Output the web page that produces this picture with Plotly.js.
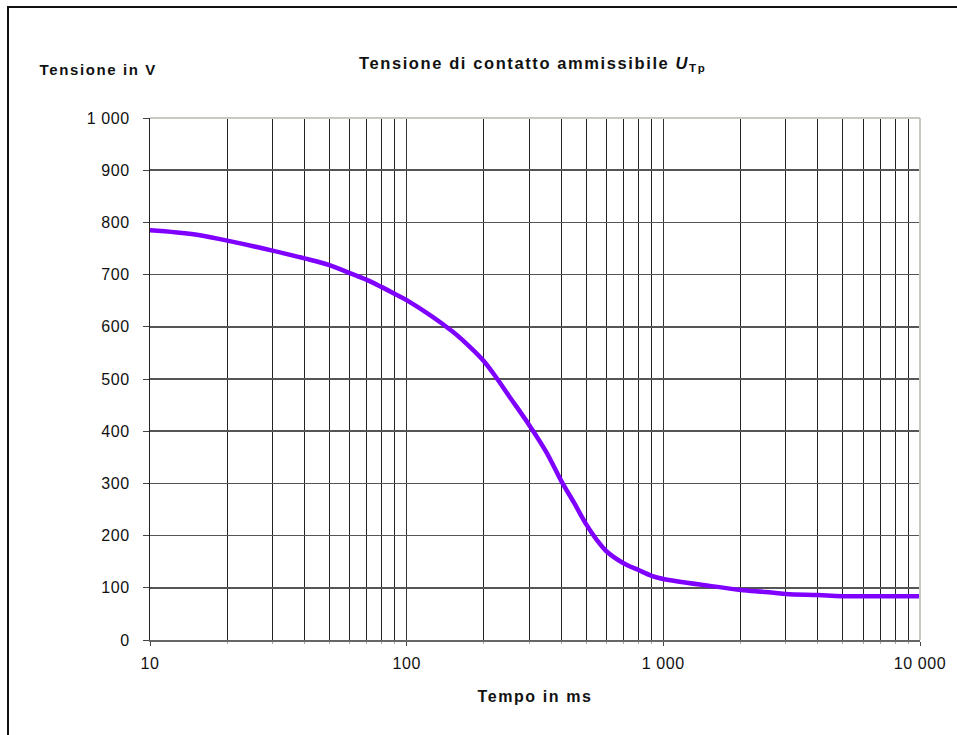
<!DOCTYPE html>
<html>
<head>
<meta charset="utf-8">
<script src="https://cdn.plot.ly/plotly-3.0.1.min.js"></script>
<style>
  html, body { margin: 0; padding: 0; background: #fff; }
  #wrap { position: relative; width: 957px; height: 735px; overflow: hidden; }
  #chart { width: 957px; height: 735px; }
  #frame { position: absolute; left: 7px; top: 6px; right: -4px; bottom: -4px;
           border-left: 2px solid #111; border-top: 2px solid #111; pointer-events: none; }
  #chart .gtitle, #chart .annotation-text, #chart .xtitle { letter-spacing: 1.6px; }
  #chart .xtick text, #chart .ytick text { letter-spacing: 0.6px; }
</style>
</head>
<body>
<div id="wrap">
  <div id="chart"></div>
  <div id="frame"></div>
</div>
<script>
// Time in ms
const tempo = [10, 15, 20, 30, 40, 50, 60, 70, 80, 90, 100, 150, 175, 200, 224, 250, 300, 350, 400, 450, 500, 550, 600, 700, 800, 900, 1000, 1500, 2000, 2500, 3000, 4000, 5000, 10000];
// Permissible touch voltage in V
const tensione = [785, 777, 765, 746, 731, 718, 703, 690, 676, 663, 651, 592, 563, 534, 502, 468, 412, 360, 305, 262, 222, 192, 170, 147, 134, 123, 117, 104, 96, 92, 88, 86, 84, 84];

const xMajorVals = [10, 100, 1000, 10000];
const xMajorText = ['10', '100', '1 000', '10 000'];
const xMinorVals = [20,30,40,50,60,70,80,90,200,300,400,500,600,700,800,900,2000,3000,4000,5000,6000,7000,8000,9000];
const yTickVals = [0,100,200,300,400,500,600,700,800,900,1000];
const yTickText = ['0','100','200','300','400','500','600','700','800','900','1 000'];

const trace = {
  x: tempo, y: tensione, type: 'scatter', mode: 'lines',
  line: { color: '#7f00ff', width: 4.5, shape: 'spline', smoothing: 1 },
  hoverinfo: 'x+y'
};

const font = 'Liberation Sans, Arial, Helvetica, sans-serif';

const layout = {
  width: 957, height: 735,
  margin: { l: 150, r: 37, t: 118, b: 95 },
  paper_bgcolor: '#fff', plot_bgcolor: '#fff',
  showlegend: false,
  font: { family: font, size: 16, color: '#111' },
  title: {
    text: '<b>Tensione di contatto ammissibile <i>U</i><sub>Tp</sub></b>',
    font: { family: font, size: 16.5, color: '#111' },
    xref: 'paper', x: 0.497, xanchor: 'center',
    yref: 'container', y: 1 - 63/735, yanchor: 'middle'
  },
  xaxis: {
    type: 'log', range: [1, 4],
    tickmode: 'array', tickvals: xMajorVals, ticktext: xMajorText,
    ticks: 'outside', ticklen: 4, tickcolor: '#444', tickwidth: 1,
    ticklabelstandoff: 4,
    showgrid: true, gridcolor: '#333', gridwidth: 1,
    minor: { tickmode: 'array', tickvals: xMinorVals, showgrid: true, gridcolor: '#222', gridwidth: 1,
             ticks: 'outside', ticklen: 2, tickcolor: '#aaa' },
    showline: true, linecolor: '#666', linewidth: 2,
    zeroline: false,
    tickfont: { family: font, size: 16, color: '#111' },
    title: { text: '<b>Tempo in ms</b>', font: { family: font, size: 16, color: '#111' }, standoff: 20 },
    fixedrange: true
  },
  yaxis: {
    range: [0, 1000],
    tickmode: 'array', tickvals: yTickVals, ticktext: yTickText,
    ticks: 'outside', ticklen: 6, tickcolor: '#444', tickwidth: 1,
    ticklabelstandoff: 10,
    showgrid: true, gridcolor: '#555', gridwidth: 1.5,
    showline: true, linecolor: '#222', linewidth: 1,
    zeroline: false,
    tickfont: { family: font, size: 16, color: '#111' },
    fixedrange: true
  },
  shapes: [
    { type: 'line', xref: 'paper', yref: 'paper', x0: 0, x1: 1, y0: 1, y1: 1,
      line: { color: '#c8c8c0', width: 2 }, layer: 'above' },
    { type: 'line', xref: 'paper', yref: 'paper', x0: 1, x1: 1, y0: 0, y1: 1,
      line: { color: '#c8c8c0', width: 2 }, layer: 'above' }
  ],
  annotations: [
    { text: '<b>Tensione in V</b>', xref: 'paper', yref: 'paper',
      x: (48 - 150) / 770, xanchor: 'left', y: (640 - 70) / 522, yanchor: 'middle',
      showarrow: false, font: { family: font, size: 15, color: '#111' } }
  ]
};

Plotly.newPlot('chart', [trace], layout, { displayModeBar: false, staticPlot: true });
</script>
</body>
</html>
